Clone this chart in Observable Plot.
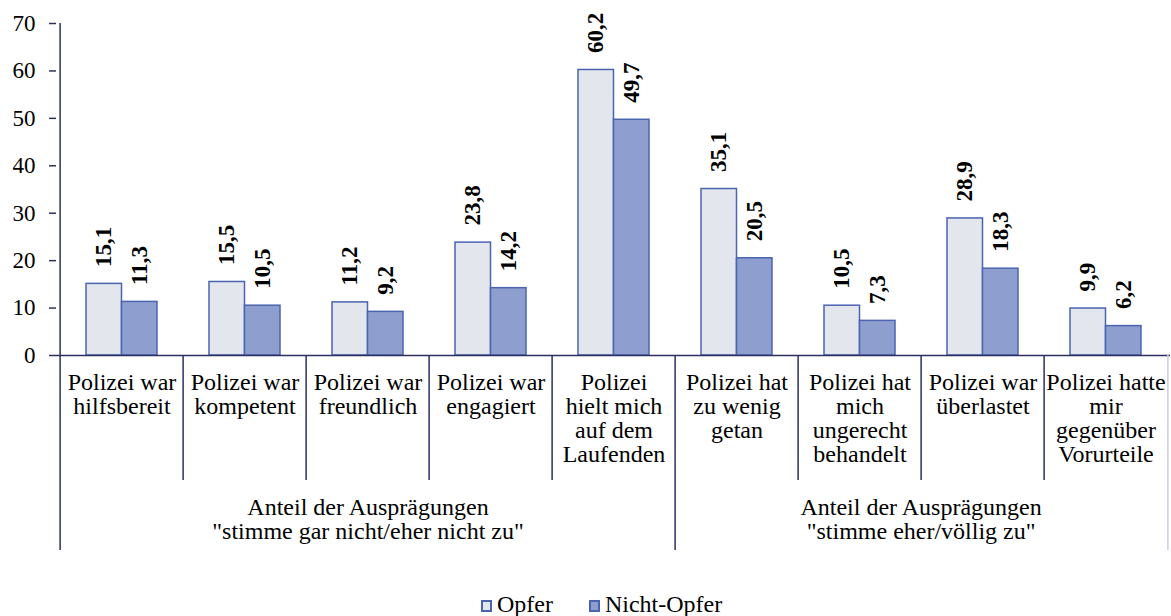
<!DOCTYPE html>
<html>
<head>
<meta charset="utf-8">
<script src="https://cdn.jsdelivr.net/npm/d3@7"></script>
<script src="https://cdn.jsdelivr.net/npm/@observablehq/plot@0.6"></script>
<style>
  html, body { margin: 0; padding: 0; background: #fff; font-family: 'Liberation Serif', serif; }
  #chart svg { display: block; }
  #legend { height: 24px; padding-top: 7px; padding-left: 481px; line-height: 24px; white-space: nowrap;
    font-family: 'Liberation Serif', serif; font-size: 24px; color: #000; }
  .item { display: inline-block; margin-right: 36px; }
  .sw { display: inline-block; width: 7px; height: 8px; border: 2px solid #4a64b0; margin-right: 5px; vertical-align: baseline; }
</style>
</head>
<body>
<div id="chart"></div>
<div id="legend"></div>
<script>
const categories = [
  "Polizei war\nhilfsbereit",
  "Polizei war\nkompetent",
  "Polizei war\nfreundlich",
  "Polizei war\nengagiert",
  "Polizei\nhielt mich\nauf dem\nLaufenden",
  "Polizei hat\nzu wenig\ngetan",
  "Polizei hat\nmich\nungerecht\nbehandelt",
  "Polizei war\nüberlastet",
  "Polizei hatte\nmir\ngegenüber\nVorurteile"
];
const opfer = [15.1, 15.5, 11.2, 23.8, 60.2, 35.1, 10.5, 28.9, 9.9];
const nichtOpfer = [11.3, 10.5, 9.2, 14.2, 49.7, 20.5, 7.3, 18.3, 6.2];
const seriesNames = ["Opfer", "Nicht-Opfer"];
const seriesColors = ["#e3e6ec", "#8e9fcf"];
const groupLabels = [
  'Anteil der Ausprägungen\n"stimme gar nicht/eher nicht zu"',
  'Anteil der Ausprägungen\n"stimme eher/völlig zu"'
];
const yTicks = [0, 10, 20, 30, 40, 50, 60, 70];

const axisColor = "#2c3060";
const barStroke = "#4a64b0";
const font = "'Liberation Serif', serif";
const fmt = v => v.toFixed(1).replace(".", ",");

const dOpfer = categories.map((c, i) => ({cat: c, value: opfer[i]}));
const dNicht = categories.map((c, i) => ({cat: c, value: nichtOpfer[i]}));

const half = 1114 / 9 / 2;
const innerEdges = [1, 2, 3, 4, 6, 7, 8].map(i => categories[i]);

const chart = Plot.plot({
  width: 1171,
  height: 585,
  marginLeft: 56,
  marginRight: 1,
  marginTop: 23,
  marginBottom: 230,
  style: {fontFamily: font, fontSize: "24px", color: "#000", background: "#fff", overflow: "visible"},
  x: {domain: categories, padding: 0, axis: null},
  y: {domain: [0, 70], axis: null},
  marks: [
    Plot.barY(dOpfer, {x: "cat", y: "value", fill: seriesColors[0], stroke: barStroke, strokeWidth: 1.5, insetLeft: 26, insetRight: 61.5}),
    Plot.barY(dNicht, {x: "cat", y: "value", fill: seriesColors[1], stroke: barStroke, strokeWidth: 1.5, insetLeft: 61.5, insetRight: 26}),
    Plot.text(dOpfer, {x: "cat", y: "value", text: d => fmt(d.value), rotate: -90, textAnchor: "start", lineAnchor: "middle", dx: -18, dy: -17, fontSize: 23, fontWeight: "bold", fill: "#000", fontFamily: font}),
    Plot.text(dNicht, {x: "cat", y: "value", text: d => fmt(d.value), rotate: -90, textAnchor: "start", lineAnchor: "middle", dx: 18, dy: -17, fontSize: 23, fontWeight: "bold", fill: "#000", fontFamily: font}),
    Plot.axisY({ticks: yTicks, tickSize: 7, tickPadding: 14, stroke: axisColor, strokeWidth: 1.5, fill: "#000", label: null, fontSize: 23, fontFamily: font}),
    Plot.ruleY([0], {stroke: axisColor, strokeWidth: 1.5}),
    Plot.ruleX([categories[0]], {x: d => d, dx: -half, insetBottom: -195, stroke: axisColor, strokeWidth: 1.5}),
    Plot.ruleX([categories[5]], {x: d => d, dx: -half, insetTop: 332, insetBottom: -195, stroke: axisColor, strokeWidth: 1.5}),
    Plot.ruleX([categories[8]], {x: d => d, dx: half, insetTop: 332, insetBottom: -195, stroke: "#c9cbe3", strokeWidth: 1.5}),
    Plot.ruleX(innerEdges, {x: d => d, dx: -half, insetTop: 332, insetBottom: -125, stroke: axisColor, strokeWidth: 1.5}),
    Plot.text(categories, {x: d => d, text: d => d, frameAnchor: "bottom", lineAnchor: "top", dy: 17, fontSize: 24, lineHeight: 1.0, fill: "#000", fontFamily: font}),
    Plot.text([groupLabels[0]], {x: () => categories[2], text: d => d, frameAnchor: "bottom", lineAnchor: "top", dy: 142, fontSize: 24, lineHeight: 1.0, fill: "#000", fontFamily: font}),
    Plot.text([groupLabels[1]], {x: () => categories[7], text: d => d, dx: -half, frameAnchor: "bottom", lineAnchor: "top", dy: 142, fontSize: 24, lineHeight: 1.0, fill: "#000", fontFamily: font})
  ]
});
document.getElementById("chart").appendChild(chart);

const legend = document.getElementById("legend");
seriesNames.forEach((name, i) => {
  const item = document.createElement("span");
  item.className = "item";
  const sw = document.createElement("span");
  sw.className = "sw";
  sw.style.background = seriesColors[i];
  const label = document.createElement("span");
  label.textContent = name;
  item.appendChild(sw);
  item.appendChild(label);
  legend.appendChild(item);
});
</script>
</body>
</html>
